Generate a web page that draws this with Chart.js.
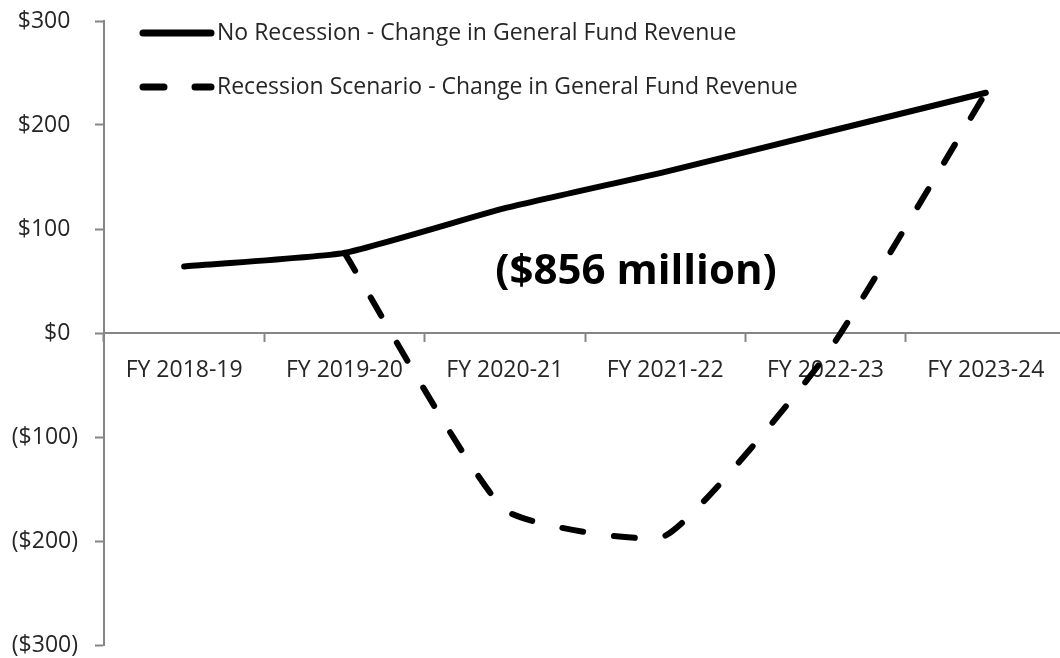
<!DOCTYPE html>
<html lang="en">

<head>
    <meta charset="UTF-8">
    <title>General Fund Revenue</title>
    <script src="https://cdn.jsdelivr.net/npm/chart.js"></script>
    <style>
        * {
            margin: 0;
            padding: 0;
            box-sizing: border-box;
        }

        body {
            background-color: #fff;
            overflow: hidden;
        }

        .chart-box {
            width: 1066px;
            height: 658px;
        }
    </style>
</head>

<body>
    <div class="chart-box">
        <canvas id="revenueChart"></canvas>
    </div>

    <script>
        // Data (millions of dollars)
        const years = ['FY 2018-19', 'FY 2019-20', 'FY 2020-21', 'FY 2021-22', 'FY 2022-23', 'FY 2023-24'];
        const noRecession = [64, 77, 120, 155, 193, 231];
        const recession = [null, 77, -170, -195, -22, 231];
        const yTicks = [-300, -200, -100, 0, 100, 200, 300];
        const seriesNames = [
            'No Recession - Change in General Fund Revenue',
            'Recession Scenario - Change in General Fund Revenue'
        ];
        const gapLabel = '($856 million)';

        const axisGray = '#868686';
        const textColor = '#262626';
        const font = "'Open Sans', sans-serif";

        Chart.defaults.font.family = font;
        Chart.defaults.font.size = 23;
        Chart.defaults.color = textColor;

        // legend drawn by hand so the line samples look like the original
        const legendPlugin = {
            id: 'customLegend',
            afterDraw(chart) {
                const ctx = chart.ctx;
                const left = chart.chartArea.left;
                const rows = [33, 87];
                ctx.save();
                chart.data.datasets.forEach((ds, i) => {
                    const y = rows[i];
                    ctx.beginPath();
                    ctx.strokeStyle = ds.borderColor;
                    ctx.lineWidth = 7;
                    ctx.lineCap = 'round';
                    ctx.setLineDash(ds.borderDash || []);
                    ctx.moveTo(left + 39, y);
                    ctx.lineTo(left + 107, y);
                    ctx.stroke();
                    ctx.setLineDash([]);
                    ctx.fillStyle = textColor;
                    ctx.font = "23px " + font;
                    ctx.textAlign = 'left';
                    ctx.textBaseline = 'middle';
                    ctx.fillText(ds.label, left + 113, y);
                });
                // gap annotation
                ctx.fillStyle = '#000';
                ctx.font = "bold 42px " + font;
                ctx.textAlign = 'center';
                ctx.fillText(gapLabel, left + 532, 272);
                ctx.restore();
            }
        };

        const ctx = document.getElementById('revenueChart').getContext('2d');
        const revenueChart = new Chart(ctx, {
            type: 'line',
            data: {
                labels: years,
                datasets: [{
                    label: seriesNames[0],
                    data: noRecession,
                    borderColor: '#000',
                    borderWidth: 6,
                    borderCapStyle: 'round',
                    borderJoinStyle: 'round',
                    tension: 0.15,
                    pointRadius: 0,
                    fill: false
                }, {
                    label: seriesNames[1],
                    data: recession,
                    borderColor: '#000',
                    borderWidth: 6,
                    borderDash: [21, 31],
                    borderCapStyle: 'round',
                    borderJoinStyle: 'round',
                    tension: 0.15,
                    pointRadius: 0,
                    fill: false
                }]
            },
            options: {
                responsive: true,
                maintainAspectRatio: false,
                animation: false,
                layout: {
                    padding: { top: 21, bottom: 13, left: 0, right: 0 }
                },
                plugins: {
                    legend: { display: false },
                    tooltip: { enabled: false }
                },
                scales: {
                    x: {
                        position: { y: 0 },
                        offset: true,
                        afterFit: (s) => { s.height = 0; },
                        grid: {
                            offset: true,
                            drawOnChartArea: false,
                            drawTicks: true,
                            tickLength: 8,
                            tickWidth: 2,
                            tickColor: axisGray
                        },
                        border: { color: axisGray, width: 2 },
                        ticks: { padding: 16, maxRotation: 0, color: textColor }
                    },
                    y: {
                        min: yTicks[0],
                        max: yTicks[yTicks.length - 1],
                        afterFit: (s) => {
                            s.width = 104;
                            s.paddingTop = 0;
                            s.paddingBottom = 0;
                        },
                        afterBuildTicks: (s) => { s.ticks = yTicks.map(v => ({ value: v })); },
                        grid: {
                            drawOnChartArea: false,
                            drawTicks: true,
                            tickLength: 9,
                            tickWidth: 2,
                            tickColor: axisGray
                        },
                        border: { color: axisGray, width: 2 },
                        ticks: {
                            padding: 17,
                            color: textColor,
                            callback: (v) => v >= 0 ? '$' + v + '\u2004' : '($' + (-v) + ')'
                        }
                    }
                }
            },
            plugins: [legendPlugin]
        });
    </script>
</body>

</html>
